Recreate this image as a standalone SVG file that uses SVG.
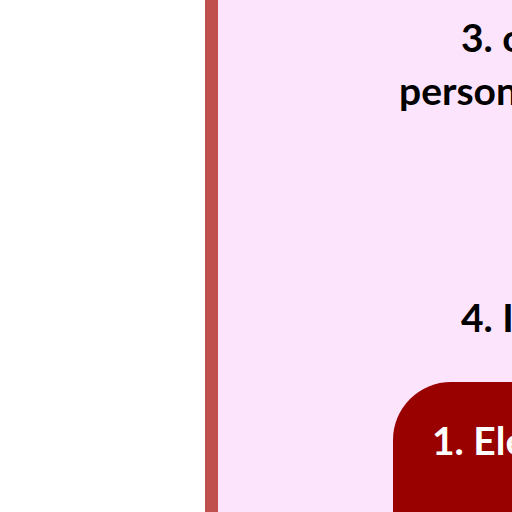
<svg xmlns="http://www.w3.org/2000/svg" width="512" height="512" viewBox="0 0 512 512">
<style>
.t{font-family:Lato,"Open Sans","Liberation Sans",sans-serif;font-weight:bold;font-size:39px;fill:#000}
.w{fill:#fff}
</style>
<rect x="0" y="0" width="512" height="512" fill="#fff"/>
<g id="panel">
<rect x="218" y="0" width="294" height="512" fill="#fce4fc"/>
<rect x="205" y="0" width="13" height="512" fill="#c0504d"/>
</g>
<g id="connectors"></g>
<g id="node3">
<text class="t" x="461" y="52">3. o</text>
<text class="t" x="399" y="105">person</text>
</g>
<g id="node4">
<text class="t" x="461" y="332">4. I</text>
</g>
<g id="node1">
<rect x="393" y="382" width="180" height="200" rx="58" ry="58" fill="#990000"/>
<text class="t w" x="432" y="455">1. Ele</text>
</g>
</svg>
